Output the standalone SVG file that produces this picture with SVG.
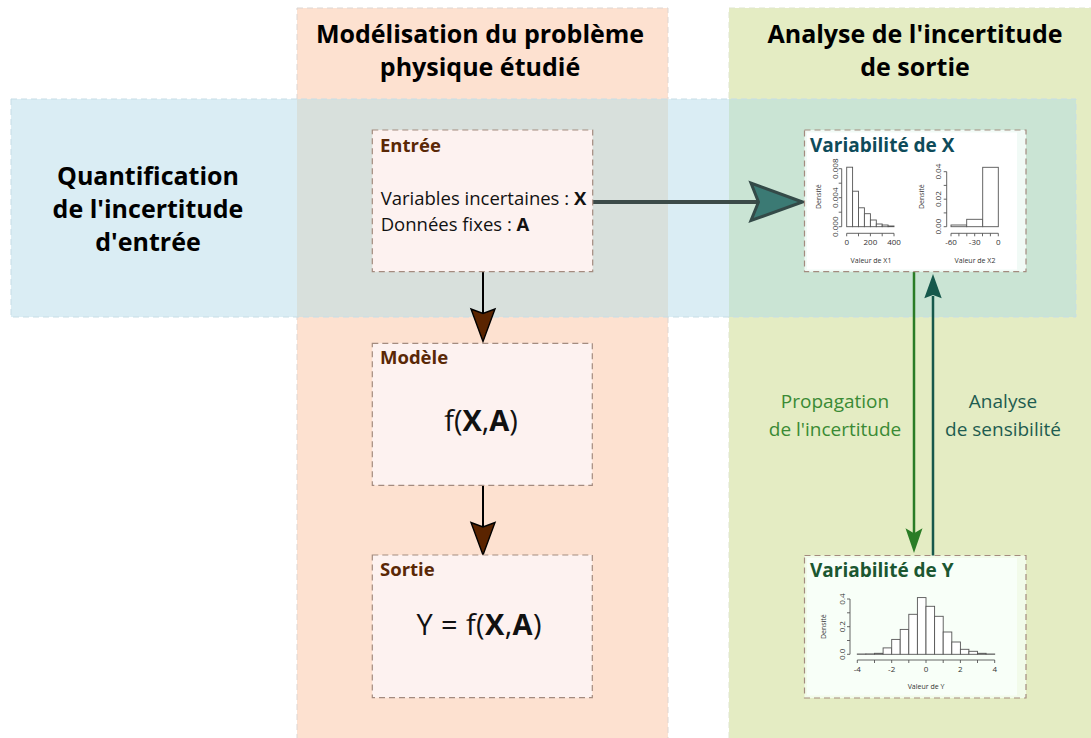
<svg xmlns="http://www.w3.org/2000/svg" width="1091" height="738" viewBox="0 0 1091 738">
<style>
text{font-family:"Open Sans","Noto Sans","Liberation Sans",sans-serif}
.title{font-size:25px;font-weight:bold;fill:#000;text-anchor:middle}
.box{fill:#fdf2f0;stroke:#a38b7f;stroke-width:1.2;stroke-dasharray:6 4}
.pbox{fill:#f1faf6;stroke:#a38b7f;stroke-width:1.2;stroke-dasharray:6 4}
.btitle{font-size:18.5px;font-weight:bold;fill:#5a2806}
.body{font-size:18.5px;fill:#111}
.big{font-size:29px;fill:#111;text-anchor:middle}
.bar{fill:#fff;stroke:#555;stroke-width:0.9}
.ax{stroke:#555;stroke-width:0.9;fill:none}
.pt{font-family:"Liberation Sans",Arial,sans-serif;font-size:7px;fill:#333}
.tk{font-size:8px}
.lbl{font-size:19px;text-anchor:middle}
.brownhead{fill:#5a2400;stroke:#000;stroke-width:1.4;stroke-linejoin:miter}
</style>
<rect width="1091" height="738" fill="#fff"/>
<g id="columns">
<rect x="297" y="8" width="371" height="740" fill="#fde1d0" stroke="#ddd6d2" stroke-dasharray="6 4"/>
<rect x="729" y="8" width="370" height="740" fill="#e4ecc3" stroke="#dfe5cf" stroke-dasharray="6 4"/>
</g>
<g id="band">
<rect x="11" y="99" width="1065" height="218" fill="#daedf4"/>
<rect x="297" y="99" width="371" height="218" fill="#d8e0dc"/>
<rect x="729" y="99" width="347" height="218" fill="#cae4d4"/>
<rect x="11" y="99" width="1065" height="218" fill="none" stroke="#c6dde6" stroke-dasharray="6 4"/>
</g>
<g id="headers">
<text class="title" x="480" y="43">Modélisation du problème</text>
<text class="title" x="480" y="76">physique étudié</text>
<text class="title" x="915" y="43">Analyse de l'incertitude</text>
<text class="title" x="915" y="76">de sortie</text>
<text class="title" x="148" y="185">Quantification</text>
<text class="title" x="148" y="218">de l'incertitude</text>
<text class="title" x="148" y="251">d'entrée</text>
</g>
<g id="connectors">
<line x1="483" y1="271" x2="483" y2="314" stroke="#000" stroke-width="2"/>
<path class="brownhead" d="M483,341.5 L471,309 L483,313.5 L495,309 Z"/>
<line x1="483" y1="485" x2="483" y2="528" stroke="#000" stroke-width="2"/>
<path class="brownhead" d="M483,555 L471,522.5 L483,527 L495,522.5 Z"/>
<line x1="593" y1="202" x2="760" y2="202" stroke="#3c4b49" stroke-width="4"/>
<path d="M802.5,202 L751,183 L758.5,202 L751,220.5 Z" fill="#3b7a74" stroke="#344a48" stroke-width="3" stroke-linejoin="miter"/>
<line x1="914" y1="272" x2="914" y2="534" stroke="#2a7c26" stroke-width="2.5"/>
<path d="M914,553 L905.5,528.3 L914,533.3 L922.5,528.3 Z" fill="#2a7c26"/>
<line x1="933" y1="556" x2="933" y2="296" stroke="#16584c" stroke-width="2.5"/>
<path d="M933,274 L924.3,298.3 L933,295 L941.7,298.3 Z" fill="#16584c"/>
<text class="lbl" x="835" y="408" fill="#3a8a34">Propagation</text>
<text class="lbl" x="835" y="436" fill="#3a8a34">de l'incertitude</text>
<text class="lbl" x="1003" y="408" fill="#1e5c50">Analyse</text>
<text class="lbl" x="1003" y="436" fill="#1e5c50">de sensibilité</text>
</g>
<g id="entree">
<rect class="box" x="372.3" y="130" width="220.4" height="141.7"/>
<text class="btitle" x="380" y="151.7">Entrée</text>
<text class="body" x="380.7" y="205">Variables incertaines : <tspan font-weight="bold">X</tspan></text>
<text class="body" x="380.7" y="231">Données fixes : <tspan font-weight="bold">A</tspan></text>
</g>
<g id="modele">
<rect class="box" x="372.3" y="343.3" width="220" height="142"/>
<text class="btitle" x="380" y="364.3">Modèle</text>
<text class="big" x="481" y="430.7">f(<tspan font-weight="bold">X</tspan>,<tspan font-weight="bold">A</tspan>)</text>
</g>
<g id="sortie">
<rect class="box" x="372.3" y="555" width="220" height="142.7"/>
<text class="btitle" x="380" y="575.7">Sortie</text>
<text class="big" x="479" y="635" textLength="125" lengthAdjust="spacing">Y = f(<tspan font-weight="bold">X</tspan>,<tspan font-weight="bold">A</tspan>)</text>
</g>
<g id="variabilite-x">
<rect class="pbox" x="804.5" y="130" width="221.5" height="141.7"/>
<rect x="807" y="132.5" width="210" height="137" fill="#fff"/>
<text x="810" y="151.7" style="font-size:19px;font-weight:bold;fill:#0e4b5a">Variabilité de X</text>
<rect class="bar" x="846.7" y="167.2" width="5.9" height="59.5"/>
<rect class="bar" x="852.6" y="191.2" width="5.9" height="35.5"/>
<rect class="bar" x="858.5" y="207.8" width="5.9" height="18.9"/>
<rect class="bar" x="864.4" y="213.7" width="6" height="13"/>
<rect class="bar" x="870.4" y="220" width="5.9" height="6.7"/>
<rect class="bar" x="876.3" y="224" width="5.9" height="2.7"/>
<rect class="bar" x="882.2" y="225" width="5.9" height="1.7"/>
<rect class="bar" x="888.1" y="226" width="5.9" height="0.7"/>
<path class="ax" d="M841.7,226.7 V168.7 M841.7,226.7 h-3 M841.7,212.2 h-3 M841.7,197.7 h-3 M841.7,183.2 h-3 M841.7,168.7 h-3"/>
<path class="ax" d="M846.7,233.3 H894 M846.7,233.3 v3 M858.5,233.3 v3 M870.4,233.3 v3 M882.2,233.3 v3 M894,233.3 v3"/>
<g class="pt" text-anchor="middle">
<text class="tk" transform="translate(837.5,226.7) rotate(-90)">0.000</text>
<text class="tk" transform="translate(837.5,197.7) rotate(-90)">0.004</text>
<text class="tk" transform="translate(837.5,168.7) rotate(-90)">0.008</text>
<text transform="translate(821,196.7) rotate(-90)">Densité</text>
<text class="tk" x="846.7" y="245">0</text>
<text class="tk" x="870.4" y="245">200</text>
<text class="tk" x="894" y="245">400</text>
<text x="871" y="263">Valeur de X1</text>
</g>
<rect class="bar" x="951" y="225" width="15.7" height="1.7"/>
<rect class="bar" x="966.7" y="219.3" width="16" height="7.4"/>
<rect class="bar" x="982.7" y="167.3" width="15.6" height="59.4"/>
<path class="ax" d="M946.7,226.7 V171.7 M946.7,226.7 h-3 M946.7,212.9 h-3 M946.7,199.2 h-3 M946.7,185.4 h-3 M946.7,171.7 h-3"/>
<path class="ax" d="M951,233.3 H998.3 M951,233.3 v3 M958.9,233.3 v3 M966.8,233.3 v3 M974.7,233.3 v3 M982.5,233.3 v3 M990.4,233.3 v3 M998.3,233.3 v3"/>
<g class="pt" text-anchor="middle">
<text class="tk" transform="translate(940.5,226.7) rotate(-90)">0.00</text>
<text class="tk" transform="translate(940.5,199.2) rotate(-90)">0.02</text>
<text class="tk" transform="translate(940.5,171.7) rotate(-90)">0.04</text>
<text transform="translate(923.5,196.7) rotate(-90)">Densité</text>
<text class="tk" x="951" y="245">-60</text>
<text class="tk" x="974.7" y="245">-30</text>
<text class="tk" x="998.3" y="245">0</text>
<text x="975" y="263">Valeur de X2</text>
</g>
</g>
<g id="variabilite-y">
<rect class="pbox" x="804.5" y="555.5" width="221.5" height="142.5" style="fill:#f2fbea"/>
<rect x="807" y="558" width="210" height="137.5" fill="#f8fff8"/>
<text x="810" y="577" style="font-size:19px;font-weight:bold;fill:#1b5731">Variabilité de Y</text>
<rect class="bar" x="857.3" y="654" width="8.6" height="0.3"/>
<rect class="bar" x="865.9" y="653.9" width="8.6" height="0.4"/>
<rect class="bar" x="874.5" y="653.3" width="8.6" height="1"/>
<rect class="bar" x="883.1" y="647.9" width="8.6" height="6.4"/>
<rect class="bar" x="891.7" y="639.4" width="8.5" height="14.9"/>
<rect class="bar" x="900.2" y="629.4" width="8.6" height="24.9"/>
<rect class="bar" x="908.8" y="614.3" width="8.6" height="40"/>
<rect class="bar" x="917.4" y="597.6" width="8.6" height="56.7"/>
<rect class="bar" x="926" y="606.3" width="8.6" height="48"/>
<rect class="bar" x="934.6" y="616.3" width="8.6" height="38"/>
<rect class="bar" x="943.2" y="632" width="8.6" height="22.3"/>
<rect class="bar" x="951.8" y="642" width="8.6" height="12.3"/>
<rect class="bar" x="960.4" y="649.3" width="8.5" height="5"/>
<rect class="bar" x="968.9" y="651.3" width="8.6" height="3"/>
<rect class="bar" x="977.5" y="653.3" width="8.6" height="1"/>
<rect class="bar" x="986.1" y="654" width="8.6" height="0.3"/>
<path class="ax" d="M850,654.3 V599 M850,654.3 h-3 M850,640.5 h-3 M850,626.7 h-3 M850,612.8 h-3 M850,599 h-3"/>
<path class="ax" d="M857.3,660 H994.7 M857.3,660 v3 M874.5,660 v3 M891.7,660 v3 M908.8,660 v3 M926,660 v3 M943.2,660 v3 M960.4,660 v3 M977.5,660 v3 M994.7,660 v3"/>
<g class="pt" text-anchor="middle">
<text class="tk" transform="translate(845,654.3) rotate(-90)">0.0</text>
<text class="tk" transform="translate(845,626.7) rotate(-90)">0.2</text>
<text class="tk" transform="translate(845,599) rotate(-90)">0.4</text>
<text transform="translate(826,626.7) rotate(-90)">Densité</text>
<text class="tk" x="857.3" y="672">-4</text>
<text class="tk" x="891.7" y="672">-2</text>
<text class="tk" x="926" y="672">0</text>
<text class="tk" x="960.4" y="672">2</text>
<text class="tk" x="994.7" y="672">4</text>
<text x="926" y="689">Valeur de Y</text>
</g>
</g>
</svg>
